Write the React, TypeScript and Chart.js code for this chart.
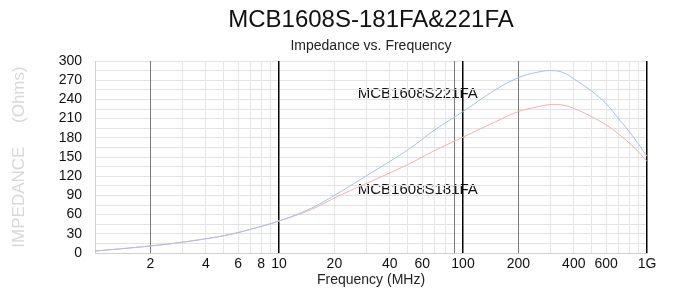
import React, { useEffect, useRef } from "react";
import { Chart, registerables } from "chart.js";

Chart.register(...registerables);

const frequencies = [1, 2, 3, 5, 7, 10, 15, 20, 30, 50, 70, 100, 150, 200, 250, 300, 350, 400, 500, 600, 700, 850, 1000];
const z221 = [3, 11, 17, 27, 37, 50, 70, 90, 121, 161, 192, 221, 255, 274, 282, 285, 282, 272, 253, 233, 210, 180, 151];
const z181 = [3, 11, 17, 27, 37, 50, 68, 86, 109, 138, 160, 181, 205, 221, 228, 232, 231, 226, 213, 200, 186, 165, 143];

const xTickLabels: Record<number, string> = {
  2: "2", 4: "4", 6: "6", 8: "8", 10: "10", 20: "20", 40: "40", 60: "60",
  100: "100", 200: "200", 400: "400", 600: "600", 1000: "1G",
};
const yTickValues = [0, 15, 30, 45, 60, 75, 90, 105, 120, 135, 150, 165, 180, 195, 210, 225, 240, 255, 270, 285, 300];
const blackLines = [10, 100, 1000];
const grayLines = [2, 90, 200];

const titleText = "MCB1608S-181FA&221FA";
const subtitleText = "Impedance vs. Frequency";
const xTitleText = "Frequency (MHz)";
const yTitleText = "IMPEDANCE     (Ohms)";
const label221 = "MCB1608S221FA";
const label181 = "MCB1608S181FA";

const FONT = "'Liberation Sans', Arial, Helvetica, sans-serif";

export default function App() {
  const ref = useRef<HTMLCanvasElement | null>(null);

  useEffect(() => {
    document.body.style.margin = "0";
    const canvas = ref.current!;
    const textPlugin = {
      id: "texts",
      beforeDraw(chart: any) {
        const { ctx, chartArea, scales } = chart;
        const cx = (chartArea.left + chartArea.right) / 2;
        ctx.save();
        ctx.fillStyle = "#111";
        ctx.textAlign = "center";
        ctx.textBaseline = "middle";
        ctx.font = `24px ${FONT}`;
        ctx.fillText(titleText, cx, 20);
        ctx.font = `14px ${FONT}`;
        ctx.fillStyle = "#222";
        ctx.fillText(subtitleText, cx, 46);
        ctx.fillText(xTitleText, cx, 280);
        // y title
        ctx.save();
        ctx.translate(19, (chartArea.top + chartArea.bottom) / 2);
        ctx.rotate(-Math.PI / 2);
        ctx.fillStyle = "#d8d8d8";
        ctx.font = `300 17px ${FONT}`;
        ctx.fillText(yTitleText, 0, 0);
        ctx.restore();
        // series labels
        ctx.fillStyle = "#111";
        ctx.textAlign = "left";
        ctx.font = `15px ${FONT}`;
        const x = scales.x.getPixelForValue(26.8);
        ctx.fillText(label221, x, scales.y.getPixelForValue(249));
        ctx.fillText(label181, x, scales.y.getPixelForValue(98));
        ctx.restore();
      },
    };

    const chart = new Chart(canvas, {
      type: "line",
      data: {
        datasets: [
          {
            label: label221,
            data: frequencies.map((f, i) => ({ x: f, y: z221[i] })),
            borderColor: "#a8c0e8",
            borderWidth: 1,
            pointRadius: 0,
            tension: 0.4,
          },
          {
            label: label181,
            data: frequencies.map((f, i) => ({ x: f, y: z181[i] })),
            borderColor: "#f5b0b0",
            borderWidth: 1,
            pointRadius: 0,
            tension: 0.4,
          },
        ],
      },
      options: {
        animation: false,
        responsive: false,
        devicePixelRatio: 1,
        layout: { padding: { left: 0, right: 28, top: 61, bottom: 0 } },
        plugins: { legend: { display: false }, title: { display: false }, tooltip: { enabled: false } },
        scales: {
          x: {
            type: "logarithmic",
            min: 1,
            max: 1000,
            afterFit: (s: any) => { s.height = 35; },
            afterBuildTicks: (s: any) => {
              const t: any[] = [];
              for (const d of [1, 10, 100]) for (let k = 1; k <= 9; k++) t.push({ value: k * d });
              t.push({ value: 1000 });
              s.ticks = t;
            },
            grid: {
              z: -1,
              drawTicks: false,
              color: (c: any) => {
                const v = c.tick && c.tick.value;
                if (blackLines.includes(v)) return "#000";
                if (grayLines.includes(v)) return "#7a7a7a";
                return "#e6e6e6";
              },
              lineWidth: (c: any) => {
                const v = c.tick && c.tick.value;
                if (blackLines.includes(v)) return 1.5;
                return 1;
              },
            },
            border: { color: "#d0d0d0" },
            ticks: {
              autoSkip: false,
              maxRotation: 0,
              padding: 3,
              color: "#111",
              font: { family: FONT, size: 14 },
              callback: (v: any) => xTickLabels[v as number] ?? "",
            },
          },
          y: {
            min: 0,
            max: 300,
            afterFit: (s: any) => { s.width = 95; },
            afterBuildTicks: (s: any) => {
              s.ticks = yTickValues.map((v) => ({ value: v }));
            },
            grid: {
              z: -2,
              drawTicks: false,
              color: "#e3e3e3",
            },
            border: { color: "#d0d0d0" },
            ticks: {
              autoSkip: false,
              padding: 13,
              color: "#111",
              font: { family: FONT, size: 14 },
              callback: (v: any) => ((v as number) % 30 === 0 ? String(v) : ""),
            },
          },
        },
      },
      plugins: [textPlugin],
    } as any);
    return () => chart.destroy();
  }, []);

  return (
    <div style={{ width: 675, height: 288 }}>
      <canvas ref={ref} width={675} height={288} style={{ display: "block" }} />
    </div>
  );
}
